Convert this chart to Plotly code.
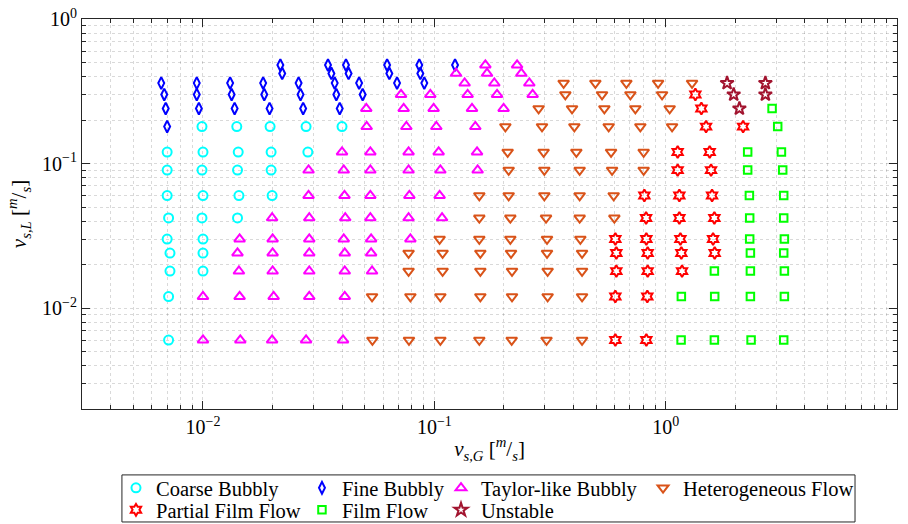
import plotly.graph_objects as go

# ---------------- data ----------------
coarse_x = [0.0071, 0.0071, 0.0072, 0.0072, 0.0070, 0.0071, 0.0070, 0.0070, 0.0070,
            0.0100, 0.0100, 0.0100, 0.0099, 0.0100, 0.0099, 0.0100, 0.0099,
            0.0141, 0.0143, 0.0141, 0.0142, 0.0140,
            0.0199, 0.0197, 0.0197, 0.0195,
            0.0284, 0.0279,
            0.0399]
coarse_y = [0.006, 0.012, 0.018, 0.024, 0.030, 0.042, 0.060, 0.090, 0.120,
            0.018, 0.024, 0.030, 0.042, 0.060, 0.090, 0.120, 0.180,
            0.042, 0.060, 0.090, 0.120, 0.180,
            0.060, 0.090, 0.120, 0.180,
            0.120, 0.180,
            0.180]

fine_x = [0.0066, 0.0068, 0.0069, 0.0070,
          0.0094, 0.0094, 0.0096,
          0.0131, 0.0133, 0.0137,
          0.0182, 0.0184, 0.0194,
          0.0216, 0.0220,
          0.0259, 0.0264, 0.0271,
          0.0347, 0.0359, 0.0371, 0.0377, 0.0390,
          0.0415, 0.0426, 0.0473, 0.0490,
          0.0625, 0.0639, 0.0690,
          0.0861, 0.0870, 0.0905,
          0.1229]
fine_y = [0.36, 0.30, 0.24, 0.18,
          0.36, 0.30, 0.24,
          0.36, 0.30, 0.24,
          0.36, 0.30, 0.24,
          0.48, 0.42,
          0.36, 0.30, 0.24,
          0.48, 0.42, 0.36, 0.30, 0.24,
          0.48, 0.42, 0.36, 0.30,
          0.48, 0.42, 0.36,
          0.48, 0.42, 0.36,
          0.48]

taylor_x = [0.0100, 0.0145, 0.0199, 0.0279, 0.0403,
            0.0100, 0.0144, 0.0202, 0.0288, 0.0410,
            0.0143, 0.0200, 0.0288, 0.0410, 0.0538,
            0.0141, 0.0200, 0.0288, 0.0410, 0.0533,
            0.0144, 0.0200, 0.0288, 0.0406, 0.0533, 0.0788,
            0.0199, 0.0288, 0.0412, 0.0529, 0.0774, 0.1080,
            0.0286, 0.0409, 0.0529, 0.0780, 0.1054,
            0.0286, 0.0406, 0.0529, 0.0774, 0.1062, 0.1539,
            0.0399, 0.0529, 0.0774, 0.1044, 0.1530,
            0.0510, 0.0757, 0.1020, 0.1504,
            0.0508, 0.0737, 0.0993, 0.1455, 0.1993,
            0.0718, 0.0961, 0.1393, 0.1867, 0.2661,
            0.1352, 0.1817, 0.2574,
            0.1241, 0.1690, 0.2377,
            0.1662, 0.2279]
taylor_y = [0.006] * 5 + [0.012] * 5 + [0.018] * 5 + [0.024] * 5 + [0.030] * 6 + \
           [0.042] * 6 + [0.060] * 5 + [0.090] * 6 + [0.120] * 5 + [0.18] * 4 + \
           [0.24] * 5 + [0.30] * 5 + [0.36] * 3 + [0.42] * 3 + [0.48] * 2

hetero_x = [0.0540, 0.0777, 0.1062, 0.1565, 0.2160, 0.3055, 0.4351,
            0.0538, 0.0788, 0.1062, 0.1581, 0.2167, 0.3089, 0.4351,
            0.0774, 0.1086, 0.1581, 0.2167, 0.3089, 0.4351,
            0.0774, 0.1086, 0.1581, 0.2146, 0.3070, 0.4351,
            0.1054, 0.1565, 0.2131, 0.3070, 0.4278,
            0.1565, 0.2131, 0.3040, 0.4249, 0.6001,
            0.1565, 0.2096, 0.2989, 0.4249, 0.5960,
            0.2096, 0.2989, 0.4249, 0.5866, 0.8033,
            0.2075, 0.2968, 0.4111, 0.5808, 0.8033,
            0.2028, 0.2921, 0.4030, 0.5671, 0.7773, 1.066,
            0.2824, 0.3938, 0.5433, 0.7396, 1.0407,
            0.3684, 0.5309, 0.7039, 0.9648,
            0.3622, 0.4967, 0.6764, 0.9274, 1.3005]
hetero_y = [0.006] * 7 + [0.012] * 7 + [0.018] * 6 + [0.024] * 6 + [0.030] * 5 + \
           [0.042] * 5 + [0.060] * 5 + [0.090] * 5 + [0.120] * 5 + [0.18] * 6 + \
           [0.24] * 5 + [0.30] * 4 + [0.36] * 5

partial_x = [0.606, 0.825,
             0.606, 0.833,
             0.612, 0.836, 1.177,
             0.612, 0.836, 1.169, 1.629,
             0.606, 0.825, 1.158, 1.603,
             0.823, 1.146, 1.624,
             0.809, 1.146, 1.587,
             1.127, 1.571,
             1.127, 1.550,
             1.495, 2.161,
             1.427,
             1.344]
partial_y = [0.006] * 2 + [0.012] * 2 + [0.018] * 3 + [0.024] * 4 + [0.030] * 4 + \
            [0.042] * 3 + [0.060] * 3 + [0.090] * 2 + [0.120] * 2 + [0.18] * 2 + \
            [0.24] + [0.30]

film_x = [1.166, 1.624, 2.340, 3.238,
          1.169, 1.629, 2.324, 3.260,
          1.624, 2.324, 3.260,
          2.324, 3.238,
          2.308, 3.260,
          2.308, 3.238,
          2.301, 3.238,
          2.262, 3.206,
          2.262, 3.165,
          3.050,
          2.884]
film_y = [0.006] * 4 + [0.012] * 4 + [0.018] * 3 + [0.024] * 2 + [0.030] * 2 + \
         [0.042] * 2 + [0.060] * 2 + [0.090] * 2 + [0.120] * 2 + [0.18] + [0.24]

unstable_x = [1.843, 1.968, 2.083, 2.698, 2.698]
unstable_y = [0.36, 0.30, 0.24, 0.36, 0.30]

x_tickvals = [0.01, 0.1, 1, 10]
x_ticktext = ["10<sup>\u22122</sup>", "10<sup>\u22121</sup>", "10<sup>0</sup>", "10<sup>1</sup>"]
y_tickvals = [0.01, 0.1, 1]
y_ticktext = ["10<sup>\u22122</sup>", "10<sup>\u22121</sup>", "10<sup>0</sup>"]

FONT = "Liberation Serif"

# name, x, y, symbol, colour, size, legend id, legend x (paper), legend row
series = [
    ("Coarse Bubbly", coarse_x, coarse_y, "circle-open", "#00FFFF", 9, "legend", 0.0417, 0),
    ("Fine Bubbly", fine_x, fine_y, "diamond-tall-open", "#0000FF", 8.5, "legend2", 0.2699, 0),
    ("Taylor-like Bubbly", taylor_x, taylor_y, "triangle-up-open", "#FF00FF", 9.5, "legend3", 0.4405, 0),
    ("Heterogeneous Flow", hetero_x, hetero_y, "triangle-down-open", "#D95319", 9.5, "legend4", 0.6884, 0),
    ("Partial Film Flow", partial_x, partial_y, "hexagram-open", "#FF0000", 9, "legend5", 0.0417, 1),
    ("Film Flow", film_x, film_y, "square-open", "#00FF00", 7.5, "legend6", 0.2699, 1),
    ("Unstable", unstable_x, unstable_y, "star-open", "#A2142F", 10, "legend7", 0.4405, 1),
]

fig = go.Figure()
for name, xs, ys, sym, col, sz, lg, _, _ in series:
    fig.add_trace(go.Scatter(
        x=xs, y=ys, mode="markers", name=name, legend=lg, showlegend=True,
        marker=dict(symbol=sym, size=sz, color=col, line=dict(color=col, width=2)),
    ))


def minor_vals(lo_exp, hi_exp):
    return [k * 10.0 ** e for e in range(lo_exp, hi_exp) for k in range(2, 10)]


grid_col = "rgba(0,0,0,0.15)"
axis_common = dict(
    type="log", showline=True, linecolor="#262626", linewidth=1, mirror="ticks",
    ticks="inside", ticklen=8, tickcolor="#262626", tickwidth=1,
    showgrid=True, gridcolor=grid_col, griddash="dot", gridwidth=1,
    zeroline=False, tickfont=dict(family=FONT, size=20, color="#000000"),
    tickmode="array",
)

fig.update_xaxes(
    **axis_common,
    range=[-2.523, 1], tickvals=x_tickvals, ticktext=x_ticktext,
    minor=dict(tickmode="array", tickvals=minor_vals(-3, 1), ticks="inside", ticklen=4,
               tickcolor="#262626", showgrid=True, gridcolor=grid_col, griddash="dot"),
    title=dict(text="<i>v</i><sub><i>s,G</i></sub> [<sup><i>m</i></sup>/<sub><i>s</i></sub>]",
               font=dict(family=FONT, size=21, color="#000000"), standoff=4),
)
fig.update_yaxes(
    **axis_common,
    range=[-2.699, 0], tickvals=y_tickvals, ticktext=y_ticktext,
    minor=dict(tickmode="array", tickvals=minor_vals(-3, 0), ticks="inside", ticklen=4,
               tickcolor="#262626", showgrid=True, gridcolor=grid_col, griddash="dot"),
    title=dict(text="<i>v</i><sub><i>s,L</i></sub> [<sup><i>m</i></sup>/<sub><i>s</i></sub>]",
               font=dict(family=FONT, size=21, color="#000000"), standoff=9),
)

row_y = [-0.2026, -0.259]
legends = {}
for name, _, _, _, _, _, lg, lx, row in series:
    legends[lg] = dict(orientation="v", yanchor="middle", xanchor="left",
                       x=lx, y=row_y[row], visible=True,
                       bgcolor="rgba(0,0,0,0)", borderwidth=0,
                       font=dict(family=FONT, size=20.5, color="#000000"),
                       itemsizing="trace")

fig.update_layout(
    width=908, height=524,
    showlegend=True,
    margin=dict(l=82, r=11, t=19, b=115, autoexpand=False),
    paper_bgcolor="white", plot_bgcolor="white",
    font=dict(family=FONT, color="#000000"),
    shapes=[dict(type="rect", xref="paper", yref="paper",
                 x0=0.049, x1=0.9485, y0=-0.2897, y1=-0.169,
                 line=dict(color="#262626", width=1), fillcolor="white", layer="below")],
    **legends,
)

fig.write_html("out.html")
